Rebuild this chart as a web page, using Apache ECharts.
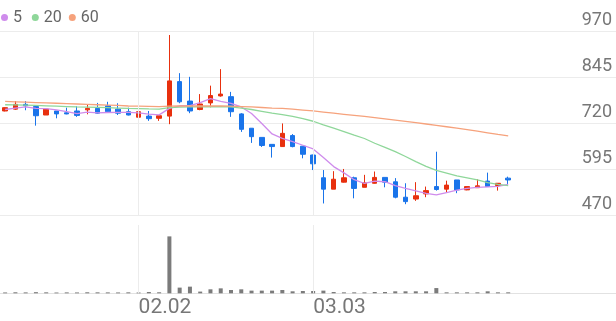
<!DOCTYPE html>
<html><head><meta charset="utf-8">
<script src="https://cdn.jsdelivr.net/npm/echarts@6/dist/echarts.min.js"></script>
<style>html,body{margin:0;padding:0;background:#fff}#c{width:616px;height:321px}</style>
</head><body><div id="c"></div>
<script>
// Trading days (2026) plus empty future slots on the right
const dates = ['01.14','01.15','01.16','01.19','01.20','01.21','01.22','01.23','01.26','01.27','01.28','01.29','01.30',
  '02.02','02.03','02.04','02.05','02.06','02.09','02.10','02.11','02.12','02.13','02.19','02.20','02.23','02.24','02.25','02.26','02.27',
  '03.03','03.04','03.05','03.06','03.09','03.10','03.11','03.12','03.13','03.16','03.17','03.18','03.19','03.20','03.23','03.24','03.25','03.26','03.27','03.30'];
const futureSlots = ['03.31','04.01','04.02','04.03','04.06','04.07','04.08','04.09','04.10','04.13'];
const labelDates = ['02.02','03.03'];

// [open, close, low, high]
const ohlc = [
  [754,763,753,764],[759,772,757,781],[772,768,756,781],[766,741,714,768],[743,759,743,759],
  [754,746,734,754],[749,746,745,763],[754,742,738,767],[757,761,745,772],[761,748,746,776],
  [768,752,750,779],[759,748,743,775],[752,743,742,763],[737,752,731,752],[740,733,727,754],
  [734,741,727,741],[740,836,718,961],[834,779,775,857],[781,754,748,847],[758,773,756,800],
  [776,796,764,823],[795,800,793,868],[793,752,738,806],[746,704,697,748],[707,684,667,707],
  [682,660,656,682],[663,657,627,663],[657,693,656,720],[687,657,655,691],[658,636,625,658],
  [634,610,593,635],[572,541,502,593],[541,568,541,590],[560,572,559,596],[572,543,516,575],
  [546,558,546,580],[557,573,556,589],[573,560,546,573],[561,519,516,571],[519,507,500,557],
  [514,523,509,560],[528,537,519,548],[548,540,537,643],[541,552,532,564],[566,539,530,566],
  [539,548,538,548],[545,550,544,568],[563,548,547,586],[551,557,537,557],[571,566,552,575]
];
const ma5 = [758,762,765,761,760.6,757.2,752,746.8,750.8,748.6,749.8,750.2,750.4,748.6,745.6,743.4,761,768.2,768.6,776.6,
  787.6,780.4,775,765,747.2,720,691.4,679.6,670.2,660.6,650.6,627.4,602.4,585.4,566.8,556.4,562.8,561.2,550.6,543.4,
  536.4,529.2,525.2,531.8,538.2,543.2,545.8,547.4,548.4,553.8];
const ma20 = [771,770.5,770,769,768,767,766,765,764.5,764,763,762,761,760.5,759.5,759,763,764.5,765,765,
  765.5,766,765,762,758,753,748,744,739,733,726,716,707,698,688,679,666,655,643,630,
  616,603,592,584.5,577,571.5,566,559,554,550.5];
const ma60 = [780,779,778,777,776,775,774,773,772,771,770,769,767.5,767,766.5,766,767,767.5,767.5,767.5,
  767.5,767.5,767,766,765,763.5,762,761,759,756.5,754,751,748,745,742,739,736,732.5,729,725.5,
  722,718.5,715,711,707,703,699,694.5,690,686];
const volume = [15,18,16,20,17,14,16,15,18,17,16,15,17,14,23,18,1000,100,117,30,
  70,87,58,70,47,47,47,58,35,40,40,47,23,17,17,17,23,23,35,35,
  35,35,92,17,17,17,17,35,17,17];
const priceTicks = {min:470, max:970, step:125};
const legendNames = ['5','20','60'];

const RED = '#e8300e', BLUE = '#1a74ea';
const C5 = '#cf8cec', C20 = '#8fd79a', C60 = '#f6a27c';
const FONT = 'Roboto';
const categories = dates.concat(futureSlots);
const vLines = {
  silent: true, symbol: ['none','none'], label: {show:false},
  lineStyle: {color:'#ececec', width:1, type:'solid'},
  data: labelDates.map(d => ({xAxis: d})), animation: false
};

// one legend per item so each can sit exactly where it is in the reference
const legendLeft = [1, 31.8, 68.8];
const legends = legendNames.map((n, i) => ({
  data: [n], left: legendLeft[i], top: 9.5, padding: 0, orient: 'horizontal',
  icon: 'circle', itemWidth: 7, itemHeight: 7, itemGap: 0, selectedMode: false,
  textStyle: {color: '#666', fontSize: 16, fontFamily: FONT}
}));

const chart = echarts.init(document.getElementById('c'), null, {renderer:'canvas'});
chart.setOption({
  animation: false,
  backgroundColor: '#fff',
  legend: legends,
  grid: [
    {left:0, right:0, top:31.7, height:183.5, outerBoundsMode:'none'},
    {left:0, right:0, top:225, height:68.3, outerBoundsMode:'none'}
  ],
  xAxis: [
    {type:'category', gridIndex:0, data:categories, boundaryGap:true,
     axisLine:{show:false}, axisTick:{show:false}, axisLabel:{show:false}, splitLine:{show:false}},
    {type:'category', gridIndex:1, data:categories, boundaryGap:true,
     axisLine:{show:true, lineStyle:{color:'#e2e2e2', width:1}}, axisTick:{show:false}, splitLine:{show:false},
     axisLabel:{show:true, interval:(i, v) => labelDates.indexOf(v) >= 0, align:'left',
       color:'#777', fontSize:21, fontFamily:FONT, margin:4}}
  ],
  yAxis: [
    {type:'value', gridIndex:0, position:'right', min:priceTicks.min, max:priceTicks.max, interval:priceTicks.step,
     axisLine:{show:false}, axisTick:{show:false},
     axisLabel:{inside:true, margin:4, color:'#777', fontSize:18, fontFamily:FONT, verticalAlign:'bottom', padding:[0,0,2,0]},
     splitLine:{show:true, lineStyle:{color:'#ececec', width:1}}},
    {type:'value', gridIndex:1, min:0, max:1200, show:false, splitLine:{show:false}}
  ],
  series: [
    {type:'candlestick', name:'price', xAxisIndex:0, yAxisIndex:0, data:ohlc, barWidth:5,
     itemStyle:{color:RED, color0:BLUE, borderColor:RED, borderColor0:BLUE, borderWidth:1},
     markLine: vLines},
    {type:'line', name:'5', xAxisIndex:0, yAxisIndex:0, data:ma5, showSymbol:false, symbol:'none',
     lineStyle:{color:C5, width:1.3}, itemStyle:{color:C5}, z:3},
    {type:'line', name:'20', xAxisIndex:0, yAxisIndex:0, data:ma20, showSymbol:false, symbol:'none',
     lineStyle:{color:C20, width:1.3}, itemStyle:{color:C20}, z:3},
    {type:'line', name:'60', xAxisIndex:0, yAxisIndex:0, data:ma60, showSymbol:false, symbol:'none',
     lineStyle:{color:C60, width:1.3}, itemStyle:{color:C60}, z:3},
    {type:'bar', name:'volume', xAxisIndex:1, yAxisIndex:1, data:volume, barWidth:4,
     itemStyle:{color:'#7b7b7b'}, markLine: vLines}
  ]
});
</script></body></html>
